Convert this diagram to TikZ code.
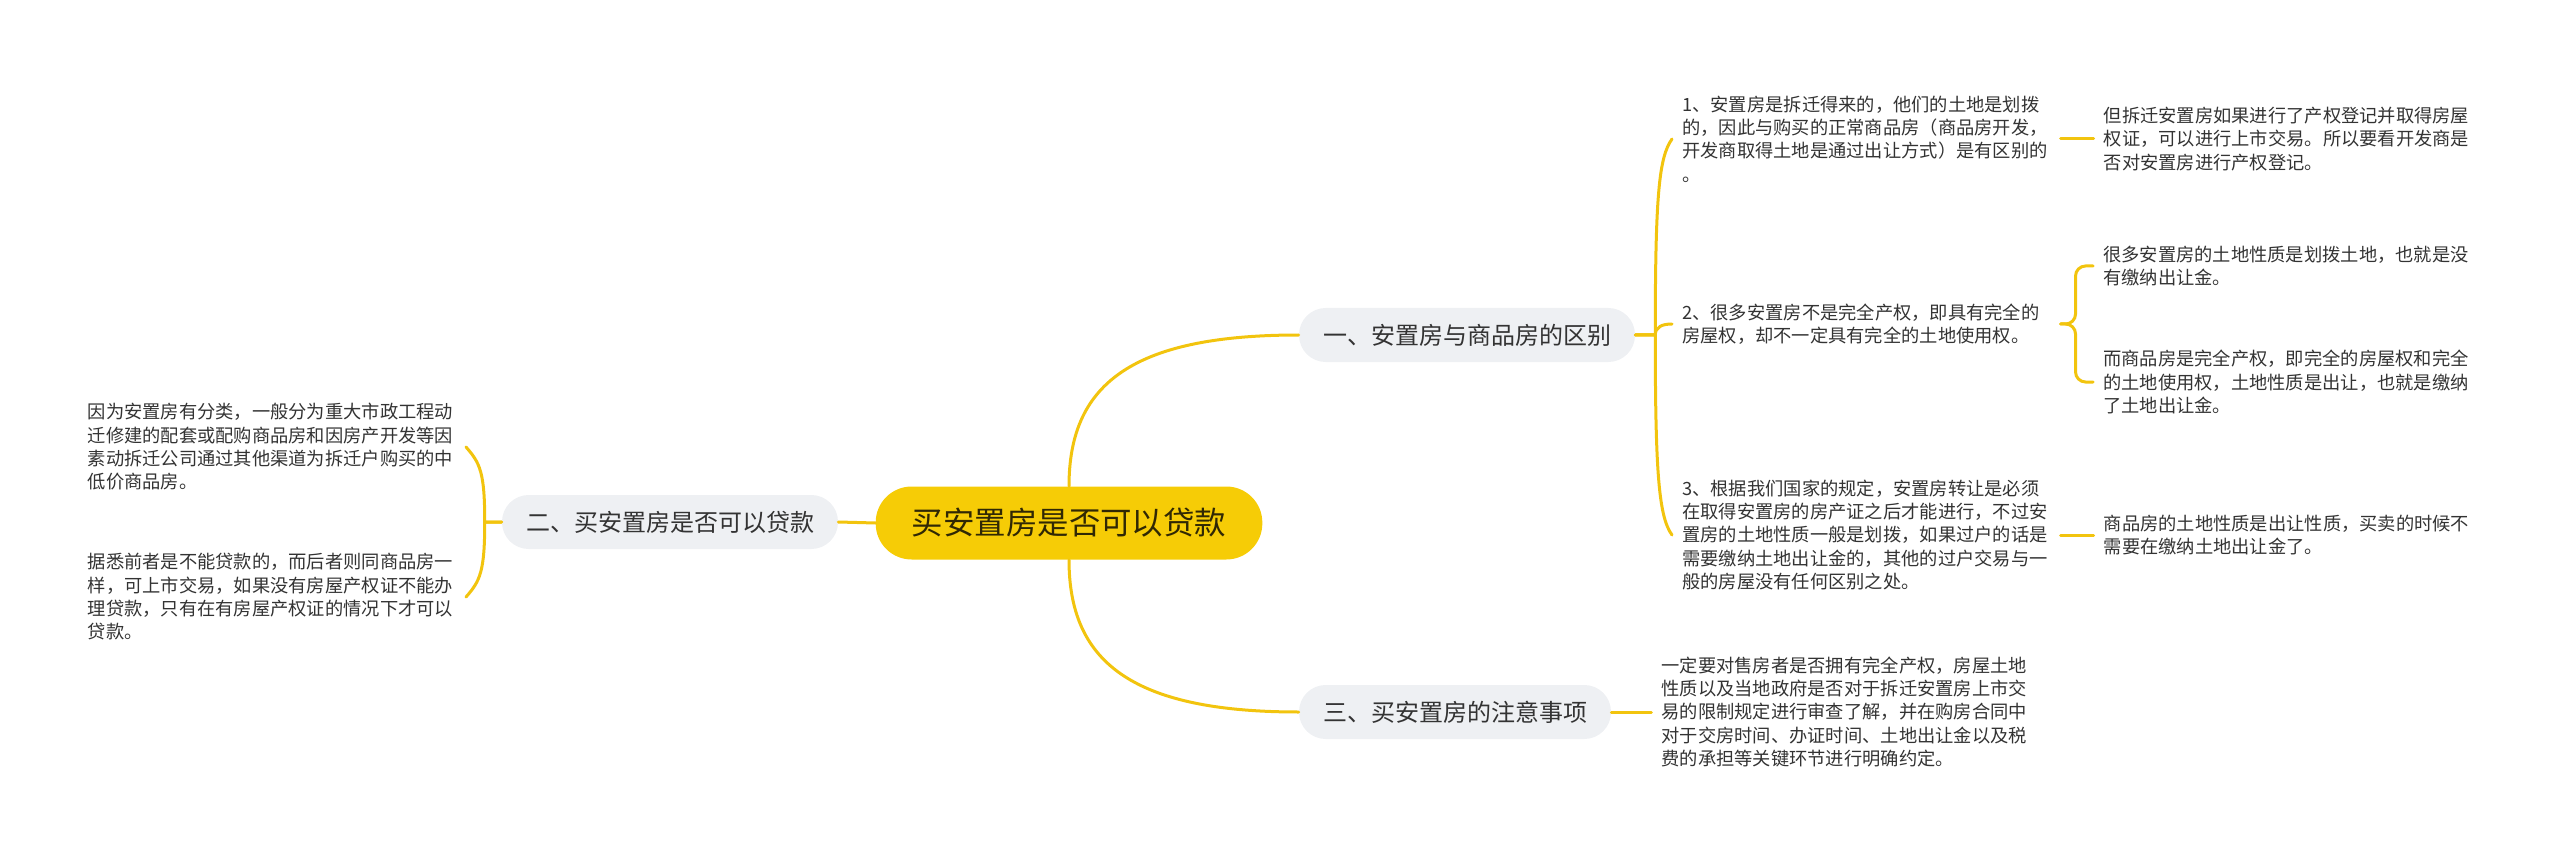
\documentclass[tikz,border=0pt]{standalone}
\usepackage{fontspec}
\setmainfont{Noto Sans CJK SC}
\usetikzlibrary{positioning}
\definecolor{linkc}{RGB}{242,196,14}
\definecolor{rootfill}{RGB}{246,204,6}
\definecolor{rootink}{RGB}{48,40,4}
\definecolor{topicfill}{RGB}{238,240,243}
\definecolor{inkc}{RGB}{51,51,51}

\begin{document}
\begin{tikzpicture}[
  x=0.75pt, y=-0.75pt,
  mainbox/.style={fill=rootfill, rounded corners=27pt, minimum height=54.75pt, inner xsep=27pt, text=rootink, font=\fontsize{23.6}{28}\selectfont},
  topicbox/.style={fill=topicfill, rounded corners=20pt, minimum height=40.5pt, inner xsep=18pt, text=inkc, font=\fontsize{18}{22}\selectfont},
  leaf/.style={text width=276pt, align=left, inner xsep=7.5pt, inner ysep=0pt, text=inkc, font=\fontsize{13.7}{17.5}\selectfont},
  link/.style={draw=linkc, line width=2.25pt, line cap=round}
]
\useasboundingbox (0,0) rectangle (2560,859);

% centre and main topics
\node[mainbox] (root) at (1069,523) {买安置房是否可以贷款};
\node[topicbox] (diff) at (1467,335) {一、安置房与商品房的区别};
\node[topicbox] (loan) at (670,522) {二、买安置房是否可以贷款};
\node[topicbox] (notes) at (1455,712) {三、买安置房的注意事项};

% right side, first topic
\node[leaf, anchor=west] (c1) at (1672,139) {1、安置房是拆迁得来的，他们的土地是划拨\\的，因此与购买的正常商品房（商品房开发，\\开发商取得土地是通过出让方式）是有区别的\\。};
\node[leaf, anchor=west] (c2) at (1672,324) {2、很多安置房不是完全产权，即具有完全的\\房屋权，却不一定具有完全的土地使用权。};
\node[leaf, anchor=west] (c3) at (1672,535) {3、根据我们国家的规定，安置房转让是必须\\在取得安置房的房产证之后才能进行，不过安\\置房的土地性质一般是划拨，如果过户的话是\\需要缴纳土地出让金的，其他的过户交易与一\\般的房屋没有任何区别之处。};
\node[leaf, right=24.75pt of c1] (gc1) {但拆迁安置房如果进行了产权登记并取得房屋\\权证，可以进行上市交易。所以要看开发商是\\否对安置房进行产权登记。};
\node[leaf, anchor=west] (gc2a) at (2093,266) {很多安置房的土地性质是划拨土地，也就是没\\有缴纳出让金。};
\node[leaf, anchor=west] (gc2b) at (2093,382) {而商品房是完全产权，即完全的房屋权和完全\\的土地使用权，土地性质是出让，也就是缴纳\\了土地出让金。};
\node[leaf, right=24.75pt of c3] (gc3) {商品房的土地性质是出让性质，买卖的时候不\\需要在缴纳土地出让金了。};

% third topic
\node[leaf, right=30pt of notes] (nc) {一定要对售房者是否拥有完全产权，房屋土地\\性质以及当地政府是否对于拆迁安置房上市交\\易的限制规定进行审查了解，并在购房合同中\\对于交房时间、办证时间、土地出让金以及税\\费的承担等关键环节进行明确约定。};

% left side
\node[leaf, anchor=east] (lc1) at (466,447) {因为安置房有分类，一般分为重大市政工程动\\迁修建的配套或配购商品房和因房产开发等因\\素动拆迁公司通过其他渠道为拆迁户购买的中\\低价商品房。};
\node[leaf, anchor=east] (lc2) at (466,597) {据悉前者是不能贷款的，而后者则同商品房一\\样，可上市交易，如果没有房屋产权证不能办\\理贷款，只有在有房屋产权证的情况下才可以\\贷款。};

% connectors
\draw[link] (root.north) .. controls +(0,-100) and +(-170,0) .. (diff.west);
\draw[link] (root.south) .. controls +(0,100) and +(-170,0) .. (notes.west);
\draw[link] (root.west) -- (loan.east);

\draw[link] (diff.east) -- ++(20,0) .. controls +(0,-140) and +(-13,18) .. (c1.west);
\draw[link] (diff.east) -- ++(20,0) .. controls +(0,-8) and +(-10,0) .. (c2.west);
\draw[link] (diff.east) -- ++(20,0) .. controls +(0,140) and +(-13,-18) .. (c3.west);

\draw[link] (c1.east) -- (gc1.west);
\draw[link, rounded corners=7.5pt] (c2.east) -- ++(15,0) |- (gc2a.west);
\draw[link, rounded corners=7.5pt] (c2.east) -- ++(15,0) |- (gc2b.west);
\draw[link] (c3.east) -- (gc3.west);

\draw[link] (notes.east) -- (nc.west);

\draw[link] (loan.west) -- ++(-17,0) .. controls +(0,-50) and +(14,16) .. (lc1.east);
\draw[link] (loan.west) -- ++(-17,0) .. controls +(0,50) and +(14,-16) .. (lc2.east);

\end{tikzpicture}
\end{document}
